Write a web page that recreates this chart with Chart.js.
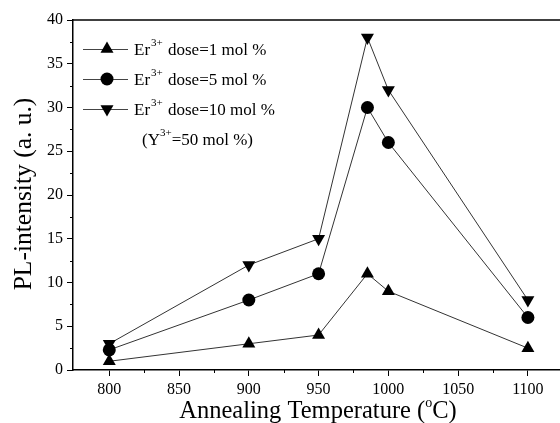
<!DOCTYPE html>
<html>
<head>
<meta charset="utf-8">
<script src="https://cdn.jsdelivr.net/npm/chart.js@4.4.1/dist/chart.umd.min.js"></script>
<style>html,body{margin:0;padding:0;background:#fff;}canvas{display:block;}</style>
</head>
<body>
<canvas id="c" width="560" height="423"></canvas>
<script>
const temperatures = [800, 900, 950, 985, 1000, 1100];
const dose1 = [1, 3, 4, 11, 9, 2.5];
const dose5 = [2.3, 8, 11, 30, 26, 6];
const dose10 = [3, 12, 15, 38, 32, 8];
const xTickValues = [800, 850, 900, 950, 1000, 1050, 1100];
const xMinorValues = [825, 875, 925, 975, 1025, 1075];
const yMinorValues = [2.5, 7.5, 12.5, 17.5, 22.5, 27.5, 32.5, 37.5];
const seriesNames = ['dose=1 mol %', 'dose=5 mol %', 'dose=10 mol %'];

const FONT = '"Liberation Serif", "Times New Roman", serif';

function pts(vals) { return temperatures.map((t, i) => ({x: t, y: vals[i]})); }

function drawMarker(ctx, style, x, y, r) {
  ctx.beginPath();
  if (style === 'circle') {
    ctx.arc(x, y, r, 0, Math.PI * 2);
  } else {
    const dir = style === 'up' ? 1 : -1;
    const h = 1.5 * r, w = Math.sqrt(3) * r;
    ctx.moveTo(x, y - dir * r);
    ctx.lineTo(x + w / 2, y - dir * r + dir * h);
    ctx.lineTo(x - w / 2, y - dir * r + dir * h);
    ctx.closePath();
  }
  ctx.fill();
}

const decor = {
  id: 'decor',
  afterDraw(chart) {
    const ctx = chart.ctx, ca = chart.chartArea;
    const xs = chart.scales.x, ys = chart.scales.y;
    ctx.save();
    // top frame
    ctx.strokeStyle = '#000';
    ctx.lineWidth = 1.5;
    ctx.beginPath();
    ctx.moveTo(ca.left, ca.top);
    ctx.lineTo(chart.width, ca.top);
    ctx.stroke();
    // minor ticks
    ctx.lineWidth = 1;
    ctx.beginPath();
    yMinorValues.forEach(v => {
      const py = Math.round(ys.getPixelForValue(v)) + 0.5;
      ctx.moveTo(ca.left - 3, py); ctx.lineTo(ca.left, py);
    });
    xMinorValues.forEach(v => {
      const px = Math.round(xs.getPixelForValue(v)) + 0.5;
      ctx.moveTo(px, ca.bottom); ctx.lineTo(px, ca.bottom + 3);
    });
    ctx.stroke();

    // legend
    const styles = ['up', 'circle', 'down'];
    const rowsY = [49, 79, 109];
    ctx.fillStyle = '#000';
    ctx.textBaseline = 'alphabetic';
    styles.forEach((s, i) => {
      const y = rowsY[i];
      ctx.strokeStyle = '#444';
      ctx.lineWidth = 1;
      ctx.beginPath();
      ctx.moveTo(83, y + 0.5); ctx.lineTo(128, y + 0.5);
      ctx.stroke();
      drawMarker(ctx, s, 107, y, s === 'circle' ? 6.5 : 7.5);
      let x = 134;
      const base = y + 6;
      ctx.font = '17px ' + FONT;
      ctx.fillText('Er', x, base);
      x += ctx.measureText('Er').width + 1;
      ctx.font = '11px ' + FONT;
      ctx.fillText('3+', x, base - 9);
      x += ctx.measureText('3+').width + 1;
      ctx.font = '17px ' + FONT;
      ctx.fillText(' ' + seriesNames[i], x, base);
    });
    {
      let x = 142; const base = 145;
      ctx.font = '17px ' + FONT;
      ctx.fillText('(Y', x, base);
      x += ctx.measureText('(Y').width;
      ctx.font = '11px ' + FONT;
      ctx.fillText('3+', x, base - 9);
      x += ctx.measureText('3+').width;
      ctx.font = '17px ' + FONT;
      ctx.fillText('=50 mol %)', x, base);
    }

    // x title
    {
      const a = 'Annealing Temperature (', b = 'o', c = 'C)';
      ctx.font = '24.5px ' + FONT;
      const wa = ctx.measureText(a).width, wc = ctx.measureText(c).width;
      ctx.font = '14px ' + FONT;
      const wb = ctx.measureText(b).width;
      let x = 318 - (wa + wb + wc) / 2;
      const base = 418;
      ctx.font = '24.5px ' + FONT;
      ctx.fillText(a, x, base); x += wa;
      ctx.font = '14px ' + FONT;
      ctx.fillText(b, x, base - 11); x += wb;
      ctx.font = '24.5px ' + FONT;
      ctx.fillText(c, x, base);
    }
    // y title
    ctx.save();
    ctx.translate(24, 194);
    ctx.rotate(-Math.PI / 2);
    ctx.font = '25.5px ' + FONT;
    ctx.textAlign = 'center';
    ctx.textBaseline = 'middle';
    ctx.fillText('PL-intensity (a. u.)', 0, 0);
    ctx.restore();
    ctx.restore();
  }
};

const common = {borderColor: '#333', borderWidth: 1, backgroundColor: '#000', pointBorderWidth: 0, tension: 0, clip: false};

new Chart(document.getElementById('c'), {
  type: 'line',
  data: {
    datasets: [
      Object.assign({label: seriesNames[0], data: pts(dose1), pointStyle: 'triangle', pointRadius: 7.5, pointRotation: 0}, common),
      Object.assign({label: seriesNames[1], data: pts(dose5), pointStyle: 'circle', pointRadius: 6.5}, common),
      Object.assign({label: seriesNames[2], data: pts(dose10), pointStyle: 'triangle', pointRadius: 7.5, pointRotation: 180}, common)
    ]
  },
  options: {
    responsive: false,
    animation: false,
    layout: {autoPadding: false, padding: {top: 20, right: 0, left: 0, bottom: 0}},
    plugins: {legend: {display: false}, tooltip: {enabled: false}},
    elements: {point: {hoverRadius: 7}},
    scales: {
      x: {
        type: 'linear', min: 774, max: 1123,
        afterBuildTicks: s => { s.ticks = xTickValues.map(v => ({value: v})); },
        afterFit: s => { s.height = 53; s.paddingRight = 0; s.paddingLeft = 0; },
        grid: {display: true, drawOnChartArea: false, drawTicks: true, tickLength: 6, color: '#000', lineWidth: 1},
        border: {display: true, color: '#000', width: 1.5},
        ticks: {font: {family: FONT, size: 16}, color: '#000', padding: 4, maxRotation: 0, autoSkip: false,
                callback: v => String(v)}
      },
      y: {
        type: 'linear', min: 0, max: 40,
        ticks: {stepSize: 5, font: {family: FONT, size: 16}, color: '#000', padding: 4, callback: v => String(v)},
        afterFit: s => { s.width = 73; s.paddingTop = 0; s.paddingBottom = 0; },
        grid: {display: true, drawOnChartArea: false, drawTicks: true, tickLength: 6, color: '#000', lineWidth: 1},
        border: {display: true, color: '#000', width: 1.5}
      }
    }
  },
  plugins: [decor]
});
</script>
</body>
</html>
